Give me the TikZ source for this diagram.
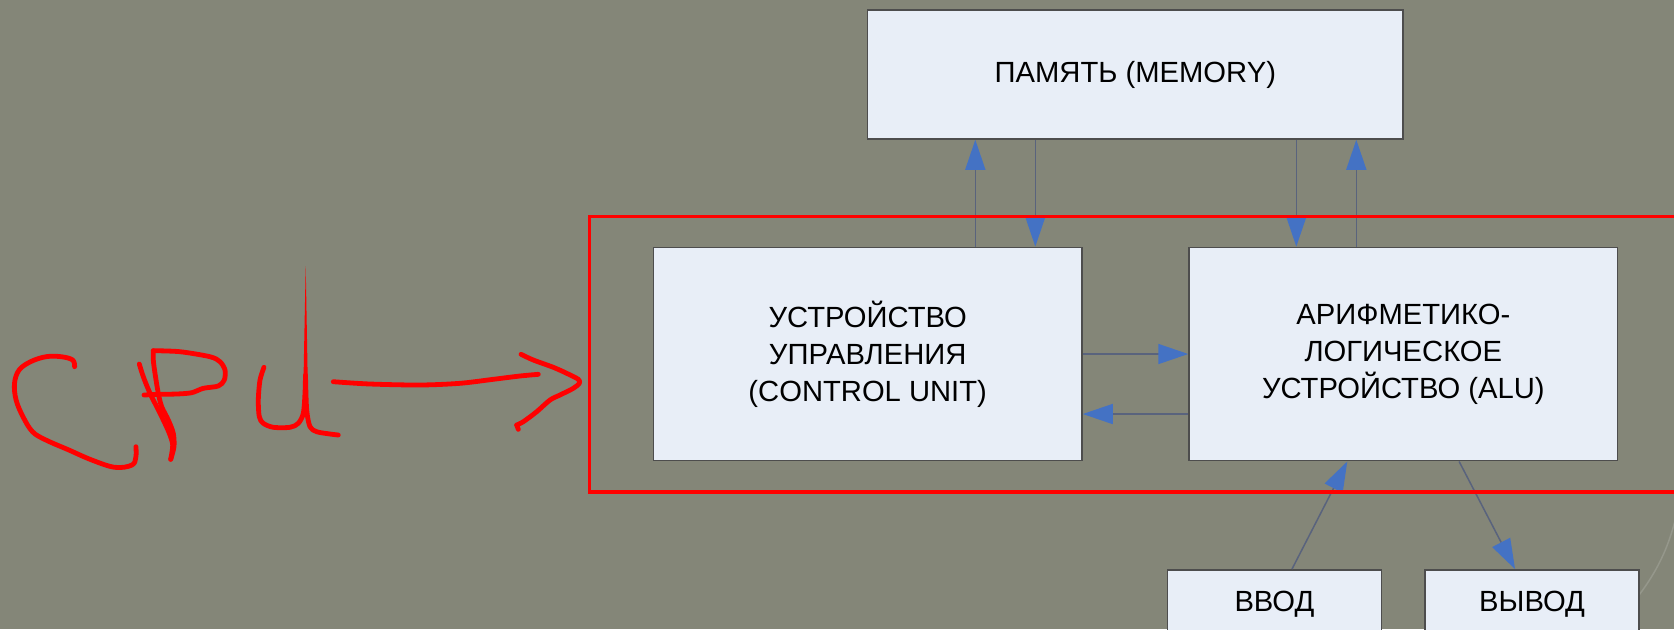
\documentclass[tikz,border=0pt]{standalone}
\usepackage{fontspec}
\setmainfont{Liberation Sans}
\usetikzlibrary{arrows.meta}
\definecolor{slide}{RGB}{132,134,120}
\definecolor{boxfill}{RGB}{232,238,247}
\definecolor{boxline}{RGB}{77,77,77}
\definecolor{linkline}{RGB}{89,99,125}
\definecolor{tipblue}{RGB}{68,114,196}
\definecolor{inkred}{RGB}{255,0,0}

\begin{document}
\begin{tikzpicture}[x=0.5pt,y=-0.5pt,
  unit/.style={draw=boxline,line width=0.75pt,fill=boxfill,inner sep=0pt,align=center,
    font=\fontsize{14.6}{18.5}\selectfont},
  port/.style={draw=boxline,line width=0.75pt,fill=boxfill,inner sep=0pt,anchor=north,
    minimum width=107pt,text height=21pt,text depth=40pt,font=\fontsize{14.6}{18.5}\selectfont},
  flow/.style={draw=linkline,line width=0.75pt,-{Triangle[length=15pt,width=10pt,color=tipblue]}},
  ink/.style={inkred,line width=2.4pt,line cap=round,line join=round}]
% slide background
\fill[slide] (0,0) rectangle (1674,629);
\useasboundingbox (0,0) rectangle (1674,629);
\draw[white!14!slide,line width=0.75pt] (1678,508) .. controls (1670,545) and (1658,572) .. (1632,604);
% blocks
\node[unit,minimum width=267.7pt,minimum height=64.5pt] (mem) at (1135.3,74.5) {ПАМЯТЬ (MEMORY)};
\node[unit,minimum width=214.3pt,minimum height=106.7pt] (cu) at (867.7,354)
  {УСТРОЙСТВО\\ УПРАВЛЕНИЯ\\ (CONTROL UNIT)};
\node[unit,minimum width=214.3pt,minimum height=106.7pt] (alu) at (1403.3,354)
  {АРИФМЕТИКО-\\ ЛОГИЧЕСКОЕ\\ УСТРОЙСТВО (ALU)};
\node[port] (vvod) at (1274.4,569) {ВВОД};
\node[port] (vyvod) at (1532,569) {ВЫВОД};
% memory links
\coordinate (m1) at ([xshift=-80pt]mem.south);
\coordinate (m2) at ([xshift=-50pt]mem.south);
\coordinate (m3) at ([xshift=80.5pt]mem.south);
\coordinate (m4) at ([xshift=110.5pt]mem.south);
\draw[flow] (m1 |- cu.north) -- (m1);
\draw[flow] (m2) -- (m2 |- cu.north);
\draw[flow] (m3) -- (m3 |- alu.north);
\draw[flow] (m4 |- alu.north) -- (m4);
% control unit <-> alu
\draw[flow] (cu.east) -- (alu.west);
\draw[flow] ([yshift=-30pt]alu.west) -- ([yshift=-30pt]cu.east);
% input / output
\draw[flow] ([xshift=8.8pt]vvod.north) -- ([xshift=-28pt]alu.south);
\draw[flow] ([xshift=27.9pt]alu.south) -- ([xshift=-8.5pt]vyvod.north);
% red frame round the cpu
\draw[inkred,line width=1.7pt] (1680,216.7) -- (589.3,216.7) -- (589.3,492) -- (1680,492);
% handwritten CPU
\draw[ink] plot[smooth,tension=0.6] coordinates {(74.6,366.7) (72.7,360) (61.2,356.7) (45.9,356.7)
  (30.6,361.7) (19.1,370) (14.5,383.3) (16.1,400) (23,416.7) (32.5,431.7) (45.9,440) (68.9,450)
  (91.8,460) (114.8,467.3) (132,465) (135.9,456.7) (135.9,446.7)};
\draw[ink] plot[smooth,tension=0.5] coordinates {(139.3,364) (143.3,376.7) (150,393.3) (156.7,406.7)
  (163.3,420) (169.3,433.3) (172.7,445) (170.7,459.3)};
\draw[ink] plot[smooth,tension=0.5] coordinates {(170.7,459.3) (174,446.7) (173.3,433.3) (168.3,420)
  (161.7,406.7) (158.3,393.3) (155,373.3) (153.3,360) (153.3,350.7)};
\draw[ink] plot[smooth,tension=0.5] coordinates {(153.3,350.7) (180,351.7) (210,356.7) (220,361.7)
  (225,370) (224.3,380) (218.3,386) (203.3,388.3) (191.7,392.7) (176.7,394) (160,394.3) (144,395)};
\draw[ink] plot[smooth,tension=0.5] coordinates {(264,367.3) (260,380) (258.3,400) (259.3,416.7)
  (263.3,423.3) (273.3,427.3) (290,427.3) (298.3,423.3) (303.3,413.3) (305,393.3) (305.5,375)};
\fill[inkred] (303.3,390) -- (305.7,266) -- (307.9,390) -- cycle;
\draw[ink] plot[smooth,tension=0.5] coordinates {(305.6,380) (306.7,410) (310,426.7) (316.7,431.7)
  (330,434) (338.3,435)};
\draw[ink] plot[smooth,tension=0.5] coordinates {(333.3,381.7) (370,384) (420,385) (460,383.3)
  (493.3,379.3) (520,376) (538.3,374.3)};
\draw[ink] plot[smooth,tension=0.5] coordinates {(521,354.3) (533.3,360) (553.3,367.3) (566.7,373.3)
  (578.3,379.3) (579.3,383.3) (573.3,388.3) (560,395) (550,400) (536.7,411.7) (523.3,421.7) (516.7,425)};
\draw[ink] (516.7,425) -- (518.3,429.3);
\end{tikzpicture}
\end{document}
